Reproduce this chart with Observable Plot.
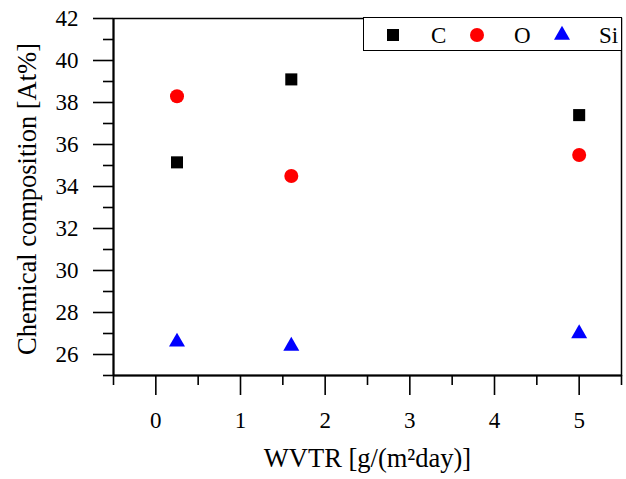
<!DOCTYPE html>
<html><head><meta charset="utf-8">
<script src="https://cdn.jsdelivr.net/npm/d3@7"></script>
<script src="https://cdn.jsdelivr.net/npm/@observablehq/plot@0.6"></script>
<style>
body{margin:0;background:#fff;}
#wrap{position:relative;width:626px;height:479px;overflow:hidden;}
#wrap svg text{font-family:"Liberation Serif","Times New Roman",serif;}
#legend{position:absolute;left:363px;top:17px;width:259px;height:34px;border:1.5px solid #000;box-sizing:border-box;background:#fff;}
#legend svg{display:block}
</style></head><body><div id="wrap"><div id="legend"></div></div>
<script>
const seriesNames = ["C", "O", "Si"];
const seriesColors = ["#000000", "#ff0000", "#0000ff"];
const seriesSymbols = ["square", "circle", "triangle"];
const wvtr = [0.25, 1.6, 5];
const carbon = [35.15, 39.1, 37.4];
const oxygen = [38.3, 34.5, 35.5];
const silicon = [26.6, 26.4, 27.0];
const xTicks = [0, 1, 2, 3, 4, 5];
const xMinor = [-0.5, 0.5, 1.5, 2.5, 3.5, 4.5, 5.5];
const yTicks = [26, 28, 30, 32, 34, 36, 38, 40, 42];
const yMinor = [25, 27, 29, 31, 33, 35, 37, 39, 41];
const xTitle = "WVTR [g/(m²day)]";
const yTitle = "Chemical composition [At%]";

const values = [carbon, oxygen, silicon];
const rows = [];
seriesNames.forEach((s, i) => wvtr.forEach((x, j) => rows.push({series: s, x, y: values[i][j]})));
const radius = {square: 6.8, circle: 7, triangle: 5.95};

const plot = Plot.plot({
  width: 626, height: 479,
  marginLeft: 113, marginRight: 5, marginTop: 18, marginBottom: 104,
  style: "font-family: 'Liberation Serif', serif; font-size: 23px; color: #000; background: #fff; overflow: visible;",
  x: {domain: [-0.5, 5.5]},
  y: {domain: [25, 42]},
  symbol: {domain: seriesNames, range: seriesSymbols},
  color: {domain: seriesNames, range: seriesColors},
  marks: [
    Plot.frame({stroke: "#000", strokeWidth: 1.5}),
    Plot.ruleX([-0.5], {stroke: "#000", strokeWidth: 2}),
    Plot.ruleY([25], {stroke: "#000", strokeWidth: 2}),
    Plot.axisY({ticks: yMinor, tickSize: 10, tickFormat: () => "", strokeWidth: 1.6, label: null}),
    Plot.axisY({ticks: yTicks, tickSize: 20, tickPadding: 15, tickFormat: "d", fontSize: 23, strokeWidth: 1.6, label: null}),
    Plot.axisX({ticks: xMinor, tickSize: 10, tickFormat: () => "", strokeWidth: 1.6, label: null}),
    Plot.axisX({ticks: xTicks, tickSize: 20, tickPadding: 16, tickFormat: "d", fontSize: 23, strokeWidth: 1.6, label: null}),
    Plot.text([yTitle], {frameAnchor: "left", textAnchor: "middle", rotate: -90, dx: -86, dy: 2, fontSize: 26.5, fill: "#000"}),
    Plot.text([xTitle], {frameAnchor: "bottom", textAnchor: "middle", dy: 91, fontSize: 26.5, fill: "#000"}),
    ...seriesNames.map((s, i) => Plot.dot(rows.filter(d => d.series === s), {
      x: "x", y: "y", symbol: "series", fill: "series", stroke: "none", r: radius[seriesSymbols[i]]
    }))
  ]
});
document.getElementById("wrap").prepend(plot);

// legend
const lg = d3.select("#legend").append("svg").attr("width", 256).attr("height", 31)
  .attr("style", "font-family: 'Liberation Serif', serif; font-size: 23px;");
const symX = [29, 113, 198];
const textX = [67, 150, 235];
seriesNames.forEach((s, i) => {
  const sym = {square: d3.symbolSquare, circle: d3.symbolCircle, triangle: d3.symbolTriangle}[seriesSymbols[i]];
  const r = radius[seriesSymbols[i]];
  lg.append("path").attr("d", d3.symbol(sym, Math.PI * r * r)())
    .attr("transform", `translate(${symX[i]},17)`).attr("fill", seriesColors[i]);
  lg.append("text").attr("x", textX[i]).attr("y", 25).text(s);
});
</script>
</body></html>
